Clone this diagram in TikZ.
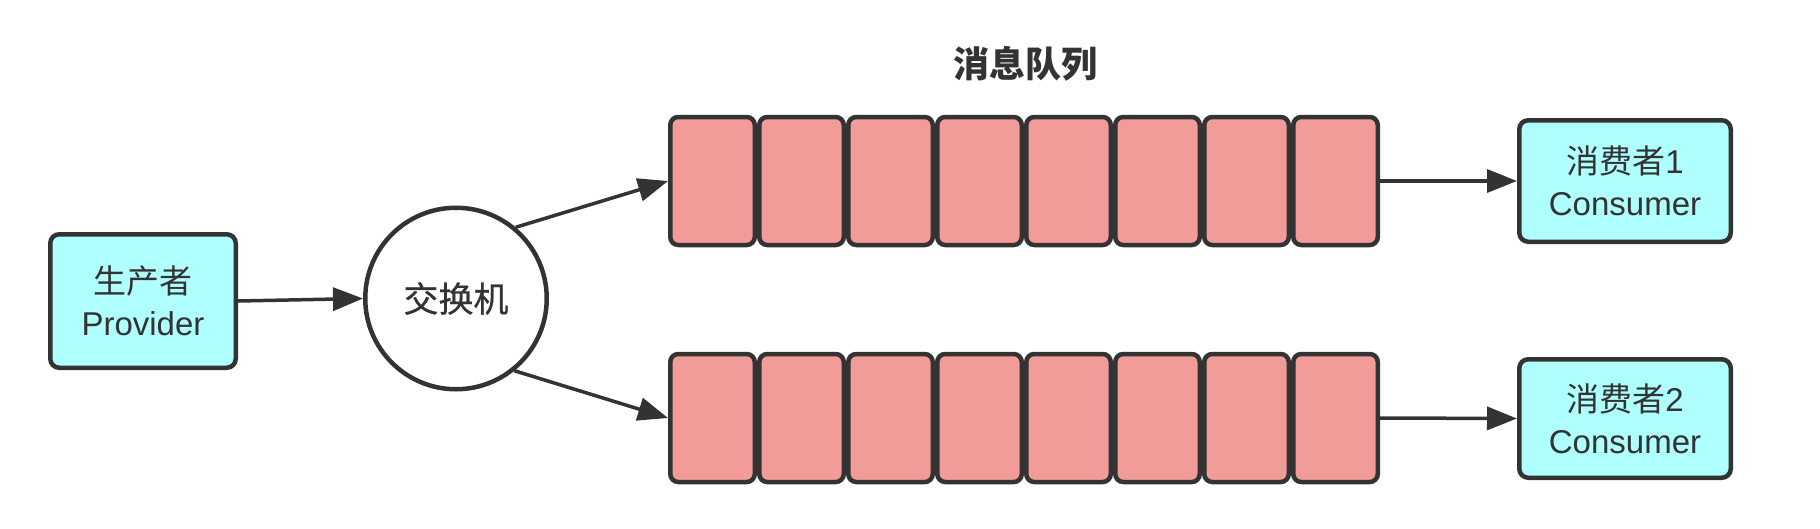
\documentclass[tikz,border=0pt]{standalone}
\usepackage{fontspec}
\setmainfont{Liberation Sans}
\newfontfamily\cjk{Noto Sans CJK SC}
\newfontfamily\cjkm[FakeBold=0.6]{Noto Sans CJK SC}
\usetikzlibrary{arrows.meta}
\definecolor{stroke}{HTML}{333333}
\definecolor{cyanfill}{HTML}{AFFFFF}
\definecolor{pinkfill}{HTML}{F19C99}
\tikzset{
  box/.style={draw=stroke, line width=4.5pt, rounded corners=9pt, fill=cyanfill,
    text=stroke, align=center, font=\fontsize{33}{42}\selectfont, inner sep=0pt},
  cell/.style={draw=stroke, line width=4.5pt, rounded corners=8pt, fill=pinkfill,
    minimum width=84.5pt, minimum height=128pt, inner sep=0pt},
  conn/.style={draw=stroke, line width=3.5pt, -{Triangle[length=30pt,width=23pt]}},
}
\begin{document}
\begin{tikzpicture}[x=1pt,y=-1pt]
\useasboundingbox (0,0) rectangle (1820,528);
\node[box, minimum width=185.5pt, minimum height=133.5pt] (p) at (143,301) {{\cjk 生产者}\\Provider};
\node[draw=stroke, line width=4.5pt, circle, fill=white, minimum size=181.5pt, inner sep=0pt,
  text=stroke, font=\fontsize{35}{40}\selectfont\cjkm] (ex) at (456,298.5) {交换机};
\node[text=stroke, font=\fontsize{36}{40}\selectfont\cjk\bfseries] (title) at (1025,64) {消息队列};
\foreach \i in {1,...,8} {
  \node[cell] (q1c\i) at ({668+44.5+(\i-1)*89},181) {};
  \node[cell] (q2c\i) at ({668+44.5+(\i-1)*89},418) {};
}
\node[box, minimum width=211.5pt, minimum height=121.5pt] (c1) at (1625,181) {{\cjk 消费者}1\\Consumer};
\node[box, minimum width=211.5pt, minimum height=118.5pt] (c2) at (1625,418.5) {{\cjk 消费者}2\\Consumer};
\draw[conn] (p.east) -- (ex.west);
\draw[conn] (ex.50) -- (q1c1.west);
\draw[conn] (ex.-51) -- (q2c1.west);
\draw[conn] (q1c8.east) -- (c1.west);
\draw[conn] (q2c8.east) -- (c2.west);
\end{tikzpicture}
\end{document}
